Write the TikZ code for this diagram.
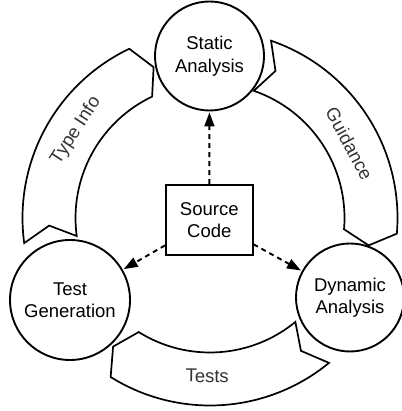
\documentclass[tikz,border=0pt]{standalone}
\usepackage{fontspec}
\setmainfont{Liberation Sans}
\usetikzlibrary{arrows.meta}
\tikzset{
  blob/.style={circle, draw, line width=1.9pt, inner sep=0pt, align=center,
    font=\fontsize{18.5}{22.5}\selectfont},
  srcbox/.style={rectangle, draw, line width=1.9pt, inner sep=0pt, align=center,
    font=\fontsize{18.5}{22.5}\selectfont, minimum width=86.5pt, minimum height=70pt},
  dasharrow/.style={line width=1.9pt, dash pattern=on 5pt off 4pt,
    -{Triangle[length=14pt,width=10pt]}, shorten >=1pt},
  ringarrow/.style={draw, line width=1.7pt, fill=white, line join=miter},
  arclabel/.style={font=\fontsize{18.5}{22.5}\selectfont, text=black!80, inner sep=0pt}
}
% #1 tail angle, #2 head angle, #3 notch/tip offset
\newcommand\cyclearr[3]{%
  \pgfmathsetmacro\cyAx{210+187.5*cos(#1)}\pgfmathsetmacro\cyAy{193+187.5*sin(#1)}%
  \pgfmathsetmacro\cyBx{210+161*cos(#2+(#3))}\pgfmathsetmacro\cyBy{193+161*sin(#2+(#3))}%
  \pgfmathsetmacro\cyCx{210+134.5*cos(#2)}\pgfmathsetmacro\cyCy{193+134.5*sin(#2)}%
  \pgfmathsetmacro\cyDx{210+161*cos(#1+(#3))}\pgfmathsetmacro\cyDy{193+161*sin(#1+(#3))}%
  \path[ringarrow] (\cyAx,\cyAy)
    arc[start angle=#1, end angle=#2, radius=187.5]
    -- (\cyBx,\cyBy) -- (\cyCx,\cyCy)
    arc[start angle=#2, end angle=#1, radius=134.5]
    -- (\cyDx,\cyDy) -- cycle;}
\begin{document}
\begin{tikzpicture}[x=1pt,y=1pt]
\useasboundingbox (0,0) rectangle (401,411);
\coordinate (C) at (210,193);
% curved cycle arrows
\cyclearr{187.7}{115.5}{-5}
\cyclearr{71}{-4.8}{-5}
\cyclearr{-50.6}{-122}{-5}
\node[arclabel, rotate=56.9] (ti) at (76.0,280.4) {Type Info};
\node[arclabel, rotate=-61.9] (gd) at (349.4,267.4) {Guidance};
\node[arclabel, rotate=-1] (ts) at (207.2,35.0) {Tests};
% nodes
\node[blob, minimum size=109pt] (sa) at (209.5,355) {Static\\Analysis};
\node[blob, minimum size=120pt] (tg) at (70,111) {Test\\Generation};
\node[blob, minimum size=108pt] (da) at (350,113.5) {Dynamic\\Analysis};
\node[srcbox] (src) at (209.3,191) {Source\\Code};
% dashed arrows
\draw[dasharrow] (src) -- (sa);
\draw[dasharrow] (src) -- (tg);
\draw[dasharrow] (src) -- (da);
\end{tikzpicture}
\end{document}
